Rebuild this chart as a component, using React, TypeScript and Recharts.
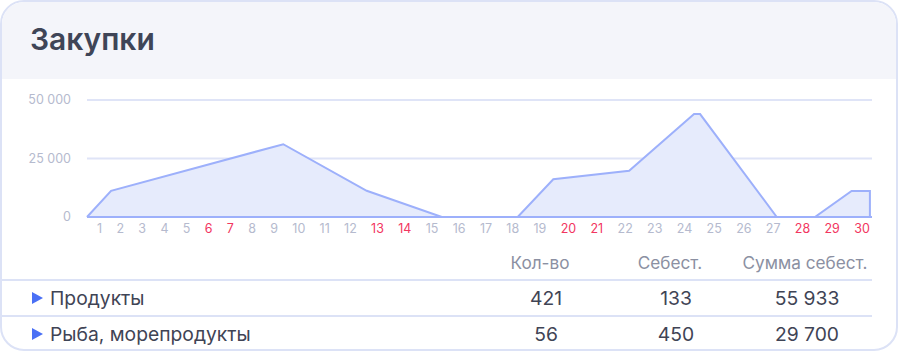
import {
  Area,
  AreaChart,
  CartesianGrid,
  ReferenceLine,
  XAxis,
  YAxis,
} from "recharts";

// point positions along the month (0 = left edge of plot, 30 = right edge)
const pointDays = [0, 0.92, 7.5, 10.69, 13.56, 16.46, 17.82, 20.72, 23.2, 23.43, 26.36, 27.82, 29.22, 29.92, 29.92];
const pointSums = [0, 11200, 31100, 11200, 0, 0, 16100, 19800, 44000, 44000, 0, 0, 11100, 11100, 0];

const yTicks = [0, 25000, 50000];

const dayLabels = [
  "1", "2", "3", "4", "5", "6", "7", "8", "9", "10",
  "11", "12", "13", "14", "15", "16", "17", "18", "19", "20",
  "21", "22", "23", "24", "25", "26", "27", "28", "29", "30",
];
const redDays = ["6", "7", "13", "14", "20", "21", "28", "29", "30"];

const columns = ["Кол-во", "Себест.", "Сумма себест."];
const rowNames = ["Продукты", "Рыба, морепродукты"];
const qty = ["421", "56"];
const cost = ["133", "450"];
const costSum = ["55 933", "29 700"];

const headerCenters = [540, 670, 805];
const valueCenters = [546, 676, 807];

const FONT = "Inter, 'Noto Sans', sans-serif";
const LINE = "#9db0fb";
const BORDER = "#dce2f6";

const fmt = (v: number) => String(v).replace(/\B(?=(\d{3})+(?!\d))/g, " ");

export default function App() {
  const data = pointDays.map((d, i) => ({ day: d, sum: pointSums[i] }));
  const rows = rowNames.map((name, i) => [qty[i], cost[i], costSum[i]]);

  return (
    <div
      style={{
        position: "absolute",
        left: 0,
        top: 0,
        width: 900,
        height: 353,
        fontFamily: FONT,
        background: "#fff",
      }}
    >
      {/* card */}
      <div
        style={{
          position: "absolute",
          left: 0,
          top: 0,
          width: 898,
          height: 351,
          boxSizing: "border-box",
          border: `2px solid ${BORDER}`,
          borderRadius: 24,
          overflow: "hidden",
        }}
      >
        <div style={{ height: 77, background: "#f4f5fa" }} />
      </div>
      <div
        style={{
          position: "absolute",
          left: 30,
          top: 21,
          fontSize: 30,
          lineHeight: "36px",
          fontWeight: 600,
          color: "#3f4557",
        }}
      >
        Закупки
      </div>

      <div style={{ position: "absolute", left: 0, top: 80 }}>
        <AreaChart
          width={900}
          height={160}
          data={data}
          margin={{ top: 20, right: 28, bottom: 23, left: 0 }}
        >
          <CartesianGrid horizontal vertical={false} stroke="#dfe4f7" strokeWidth={2} />
          <XAxis dataKey="day" type="number" domain={[0, 30]} hide />
          <YAxis
            domain={[0, 50000]}
            ticks={yTicks}
            width={87}
            axisLine={false}
            tickLine={false}
            tickSize={0}
            tickMargin={16}
            tickFormatter={fmt}
            tick={{ fill: "#b5bace", fontSize: 12.5, fontFamily: FONT }}
          />
          <ReferenceLine y={0} stroke={LINE} strokeWidth={2} />
          <Area
            type="linear"
            dataKey="sum"
            stroke={LINE}
            strokeWidth={2}
            fill="#e6ebfc"
            fillOpacity={1}
            isAnimationActive={false}
          />
        </AreaChart>
      </div>

      <div
        style={{
          position: "absolute",
          left: 97,
          width: 773,
          top: 222,
          display: "flex",
          justifyContent: "space-between",
          fontSize: 12.5,
          lineHeight: "14px",
        }}
      >
        {dayLabels.map((d) => (
          <span key={d} style={{ color: redDays.includes(d) ? "#f2365f" : "#b5bace" }}>
            {d}
          </span>
        ))}
      </div>

      {/* table */}
      {columns.map((c, i) => (
        <div
          key={c}
          style={{
            position: "absolute",
            left: headerCenters[i],
            top: 252,
            transform: "translateX(-50%)",
            fontSize: 17.2,
            lineHeight: "22px",
            color: "#8b90a2",
            whiteSpace: "nowrap",
          }}
        >
          {c}
        </div>
      ))}
      {[279, 315].map((y) => (
        <div
          key={y}
          style={{ position: "absolute", left: 0, top: y, width: 872, height: 2, background: BORDER }}
        />
      ))}
      {rowNames.map((name, r) => {
        const top = 287 + r * 36;
        return (
          <div key={name}>
            <div
              style={{
                position: "absolute",
                left: 32,
                top: top + 5,
                width: 0,
                height: 0,
                borderLeft: "11px solid #4a70f5",
                borderTop: "6px solid transparent",
                borderBottom: "6px solid transparent",
              }}
            />
            <div
              style={{
                position: "absolute",
                left: 50,
                top,
                fontSize: 19.3,
                lineHeight: "22px",
                color: "#3f4455",
                whiteSpace: "nowrap",
              }}
            >
              {name}
            </div>
            {rows[r].map((v, i) => (
              <div
                key={i}
                style={{
                  position: "absolute",
                  left: valueCenters[i],
                  top,
                  transform: "translateX(-50%)",
                  fontSize: 19.3,
                  lineHeight: "22px",
                  color: "#3f4455",
                  whiteSpace: "nowrap",
                }}
              >
                {v}
              </div>
            ))}
          </div>
        );
      })}
    </div>
  );
}
